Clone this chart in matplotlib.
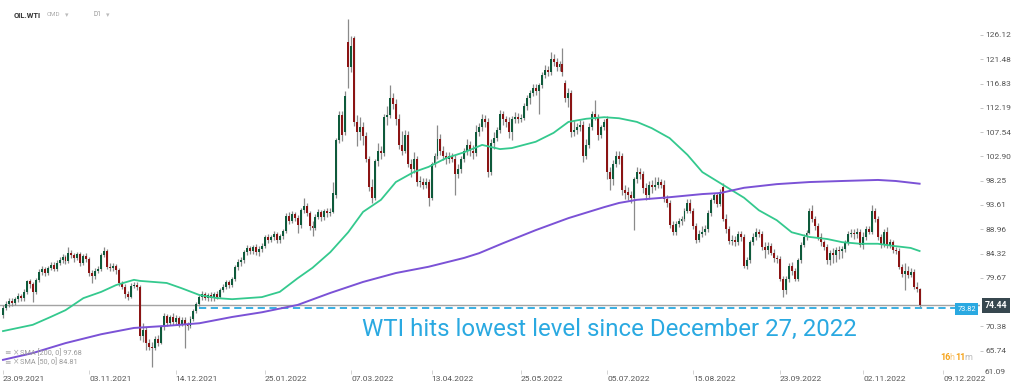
import numpy as np
import pandas as pd
import matplotlib
matplotlib.use("Agg")
import matplotlib.pyplot as plt

plt.rcParams['font.family'] = ['Roboto', 'DejaVu Sans']

# daily candles OIL.WTI
opens = [
    72.6, 74.0, 74.6, 75.3, 74.9, 75.6, 76.2, 75.8, 77.0, 79.0,
    78.5, 76.9, 79.2, 80.8, 81.3, 80.6, 81.6, 82.2, 81.4, 82.6,
    83.1, 83.6, 82.9, 84.4, 84.0, 83.4, 84.2, 82.6, 83.8, 83.2,
    80.6, 80.0, 81.0, 81.4, 84.0, 84.9, 81.8, 81.5, 82.0, 81.1,
    78.6, 78.0, 76.6, 76.1, 78.2, 78.4, 77.9, 68.5, 69.8, 67.3,
    66.5, 66.3, 67.9, 67.2, 70.2, 72.3, 71.0, 72.1, 71.2, 72.0,
    70.9, 71.7, 70.6, 70.4, 71.9, 73.3, 74.6, 76.0, 76.6, 75.9,
    76.4, 75.8, 76.6, 76.1, 77.4, 78.0, 78.8, 78.3, 79.5, 81.8,
    82.8, 83.0, 84.6, 85.3, 84.8, 85.5, 84.6, 85.2, 85.8, 87.5,
    87.0, 87.4, 88.0, 86.9, 87.6, 88.6, 91.5, 90.6, 91.8, 91.2,
    89.8, 92.6, 93.4, 92.0, 89.6, 89.3, 91.4, 92.2, 91.3, 92.4,
    92.0, 92.3, 95.5, 106.0, 110.8, 107.5, 124.8, 120.0, 125.5, 109.5,
    107.5, 108.5, 106.8, 102.5, 97.0, 95.0, 102.0, 104.0, 103.5, 110.5,
    110.8, 114.0, 113.0, 110.0, 105.0, 104.0, 107.0, 101.5, 100.5, 102.5,
    98.0, 98.0, 97.5, 98.0, 95.0, 101.5, 103.0, 106.3, 104.0, 103.0,
    102.5, 103.0, 102.5, 99.5, 100.5, 102.5, 104.0, 105.0, 104.0, 103.5,
    107.5, 108.5, 110.0, 109.5, 100.0, 105.5, 106.5, 108.0, 111.0, 110.0,
    109.5, 107.5, 110.0, 110.5, 110.0, 110.3, 112.5, 114.0, 115.0, 116.0,
    115.5, 116.5, 118.5, 119.5, 119.0, 121.5, 121.0, 120.0, 120.5, 117.0,
    114.0, 115.0, 107.5, 108.0, 108.5, 109.0, 103.0, 105.0, 108.5, 111.0,
    110.5, 107.0, 108.5, 110.0, 100.0, 98.5, 101.5, 103.0, 103.0, 96.5,
    96.0, 95.5, 95.0, 98.5, 100.0, 99.5, 96.8, 95.5, 97.5, 97.0,
    97.5, 98.0, 97.5, 94.8, 94.0, 89.8, 88.5, 90.0, 90.5, 91.0,
    92.5, 94.0, 92.5, 89.6, 87.0, 88.0, 88.5, 89.0, 92.0, 94.5,
    95.5, 93.8, 97.0, 91.0, 89.0, 86.8, 87.0, 86.5, 88.0, 87.5,
    82.0, 83.0, 86.5, 87.5, 88.5, 88.0, 85.5, 85.0, 85.8, 84.5,
    83.5, 83.3, 79.5, 77.3, 79.5, 82.0, 81.0, 79.5, 83.0, 86.0,
    87.5, 88.3, 92.5, 91.0, 89.5, 87.5, 86.5, 85.5, 83.0, 84.5,
    84.0, 85.0, 84.8, 85.2, 86.5, 88.0, 88.3, 88.0, 88.5, 86.0,
    87.5, 89.0, 88.5, 92.5, 91.0, 87.5, 86.0, 88.5, 86.0, 86.5,
    85.0, 84.8, 81.8, 80.5, 81.0, 80.3, 80.8, 78.0, 77.5,
]
highs = [
    74.5, 75.2, 75.9, 75.8, 76.0, 76.8, 76.6, 77.6, 79.3, 79.4,
    78.9, 79.6, 81.3, 81.9, 81.8, 82.0, 82.8, 82.7, 83.0, 83.6,
    84.2, 84.0, 85.6, 85.0, 84.5, 84.7, 84.6, 84.3, 84.4, 83.6,
    81.2, 81.5, 82.0, 84.4, 85.5, 85.2, 82.5, 82.6, 82.4, 81.5,
    79.0, 78.5, 77.2, 78.6, 78.9, 78.9, 78.3, 71.0, 70.3, 68.0,
    67.5, 68.5, 68.7, 70.6, 72.9, 72.8, 72.6, 72.9, 72.5, 72.4,
    72.2, 72.1, 71.2, 72.3, 73.8, 75.0, 76.5, 77.1, 77.0, 76.8,
    76.9, 77.0, 77.1, 77.8, 78.5, 79.3, 79.3, 79.9, 82.2, 83.3,
    83.6, 85.0, 85.9, 85.8, 86.0, 86.2, 85.7, 86.3, 87.9, 88.1,
    87.9, 88.6, 88.5, 88.1, 89.1, 92.0, 92.2, 92.4, 92.3, 91.7,
    93.0, 95.0, 93.9, 92.5, 90.6, 91.9, 92.8, 92.7, 92.9, 93.0,
    93.0, 98.0, 106.4, 111.6, 111.5, 115.5, 129.2, 126.0, 126.0, 110.8,
    110.5, 109.5, 107.6, 103.0, 98.5, 102.5, 105.5, 104.8, 111.0, 112.5,
    116.5, 115.0, 113.8, 111.0, 107.8, 108.0, 107.8, 102.5, 103.7, 103.0,
    99.2, 98.8, 98.8, 98.5, 101.9, 103.6, 108.9, 107.2, 104.8, 103.8,
    103.8, 103.6, 103.2, 101.5, 103.0, 104.6, 106.2, 105.8, 105.0, 108.9,
    109.2, 111.0, 110.8, 110.2, 106.2, 107.5, 108.6, 111.8, 111.6, 110.6,
    110.4, 110.6, 111.3, 111.2, 111.0, 113.2, 114.6, 115.6, 116.8, 116.7,
    117.0, 119.0, 120.3, 120.1, 122.9, 122.5, 121.7, 121.2, 123.6, 117.6,
    116.0, 115.6, 109.8, 109.3, 109.8, 109.6, 106.2, 109.2, 111.6, 113.7,
    111.0, 109.0, 110.0, 110.6, 100.8, 102.2, 104.0, 104.0, 103.6, 97.5,
    97.0, 96.3, 99.0, 100.8, 100.6, 100.2, 97.8, 98.2, 98.3, 99.0,
    99.0, 98.6, 98.4, 95.5, 94.5, 90.6, 90.6, 91.2, 91.6, 93.0,
    94.7, 94.8, 93.0, 90.2, 88.8, 89.6, 89.8, 92.6, 95.0, 96.0,
    96.0, 96.6, 97.8, 91.8, 89.6, 87.8, 87.6, 88.6, 88.7, 88.0,
    83.6, 86.9, 88.2, 89.3, 89.0, 88.6, 86.5, 86.5, 86.3, 85.2,
    84.0, 83.8, 80.0, 80.0, 82.5, 82.8, 81.6, 83.5, 86.6, 88.0,
    88.8, 93.0, 93.6, 91.6, 90.2, 88.2, 87.0, 86.2, 85.0, 85.3,
    85.6, 85.8, 85.8, 87.0, 88.6, 89.0, 89.0, 89.2, 89.0, 88.4,
    89.6, 89.5, 93.6, 93.0, 91.5, 88.0, 89.0, 89.4, 87.2, 87.0,
    85.5, 85.3, 82.3, 82.5, 82.0, 81.6, 81.3, 78.8, 77.8,
]
lows = [
    72.0, 73.5, 74.1, 74.3, 74.4, 75.1, 75.2, 75.3, 76.6, 77.8,
    75.0, 76.5, 78.8, 80.3, 80.1, 80.2, 81.1, 80.9, 81.0, 82.1,
    82.6, 82.3, 82.5, 83.5, 82.8, 83.0, 82.0, 82.1, 82.7, 80.1,
    78.7, 79.5, 80.6, 81.0, 83.6, 81.3, 80.9, 81.0, 80.5, 78.1,
    77.5, 75.9, 75.4, 75.8, 77.7, 77.3, 67.8, 67.5, 65.9, 65.9,
    62.6, 65.8, 66.6, 67.0, 69.8, 70.5, 70.6, 70.7, 70.6, 70.3,
    70.4, 66.3, 69.8, 70.0, 71.5, 73.0, 74.3, 75.5, 75.4, 75.3,
    75.3, 75.3, 75.7, 75.8, 77.0, 77.6, 77.8, 77.9, 79.1, 81.2,
    81.9, 82.6, 84.1, 84.2, 84.3, 84.0, 83.9, 84.7, 85.4, 86.4,
    86.5, 86.9, 86.3, 86.4, 87.1, 88.2, 89.9, 90.1, 90.6, 88.3,
    89.2, 92.0, 91.5, 88.8, 87.6, 88.9, 90.9, 90.6, 90.8, 91.3,
    91.5, 92.0, 95.0, 105.5, 105.8, 107.0, 116.0, 119.0, 108.8, 104.8,
    106.0, 105.0, 101.8, 96.3, 94.0, 94.5, 101.0, 102.5, 103.0, 109.0,
    110.2, 112.0, 109.0, 104.3, 103.2, 103.5, 100.8, 99.0, 99.8, 97.2,
    97.0, 96.6, 96.8, 93.5, 94.5, 100.8, 102.4, 103.2, 102.2, 101.5,
    101.7, 101.8, 95.5, 98.8, 99.8, 101.9, 103.2, 103.0, 102.5, 103.0,
    106.8, 107.8, 108.5, 99.0, 99.3, 104.3, 105.8, 107.4, 109.0, 108.6,
    106.5, 106.0, 109.3, 109.2, 109.4, 109.8, 111.8, 113.0, 114.4, 114.6,
    111.0, 116.0, 117.8, 118.3, 118.5, 120.2, 119.2, 119.3, 118.3, 113.3,
    112.4, 106.6, 106.8, 107.2, 107.8, 101.8, 102.4, 104.5, 108.0, 109.8,
    106.0, 106.5, 108.0, 98.5, 96.5, 97.5, 100.8, 101.5, 95.5, 94.8,
    94.6, 94.0, 88.8, 97.8, 98.6, 96.0, 94.5, 94.8, 96.0, 96.5,
    96.8, 96.8, 94.2, 93.2, 89.2, 87.8, 87.8, 89.4, 89.8, 90.5,
    92.0, 92.0, 89.0, 86.3, 86.5, 87.4, 87.8, 88.4, 91.5, 94.0,
    93.2, 93.4, 90.5, 88.3, 86.2, 86.0, 85.8, 86.0, 86.8, 81.5,
    81.3, 82.6, 86.0, 87.0, 87.4, 85.0, 83.5, 84.3, 84.0, 82.8,
    82.6, 79.0, 76.0, 76.6, 78.8, 80.3, 79.0, 79.0, 82.6, 85.5,
    87.0, 88.0, 90.4, 88.8, 87.0, 85.8, 85.0, 82.4, 82.2, 82.5,
    82.8, 83.3, 83.5, 84.6, 86.0, 87.4, 87.2, 87.3, 85.5, 85.2,
    87.0, 88.0, 88.0, 90.3, 87.0, 85.3, 85.5, 85.3, 85.4, 84.4,
    84.2, 81.3, 79.8, 77.4, 79.7, 79.8, 77.6, 76.9, 74.2,
]
closes = [
    74.0, 74.6, 75.3, 74.9, 75.6, 76.2, 75.8, 77.0, 79.0, 78.5,
    76.9, 79.2, 80.8, 81.3, 80.6, 81.6, 82.2, 81.4, 82.6, 83.1,
    83.6, 82.9, 84.4, 84.0, 83.4, 84.2, 82.6, 83.8, 83.2, 80.6,
    80.0, 81.0, 81.4, 84.0, 84.9, 81.8, 81.5, 82.0, 81.1, 78.6,
    78.0, 76.6, 76.1, 78.2, 78.4, 77.9, 68.5, 69.8, 67.3, 66.5,
    66.3, 67.9, 67.2, 70.2, 72.3, 71.0, 72.1, 71.2, 72.0, 70.9,
    71.7, 70.6, 70.4, 71.9, 73.3, 74.6, 76.0, 76.6, 75.9, 76.4,
    75.8, 76.6, 76.1, 77.4, 78.0, 78.8, 78.3, 79.5, 81.8, 82.8,
    83.0, 84.6, 85.3, 84.8, 85.5, 84.6, 85.2, 85.8, 87.5, 87.0,
    87.4, 88.0, 86.9, 87.6, 88.6, 91.5, 90.6, 91.8, 91.2, 89.8,
    92.6, 93.4, 92.0, 89.6, 89.3, 91.4, 92.2, 91.3, 92.4, 92.0,
    92.3, 96.0, 106.0, 110.8, 107.0, 114.5, 120.0, 124.0, 109.5, 107.5,
    108.5, 106.8, 102.5, 97.0, 95.0, 102.0, 104.0, 103.5, 110.5, 110.8,
    114.0, 113.0, 110.0, 105.0, 104.0, 107.0, 101.5, 100.5, 102.5, 98.0,
    98.0, 97.5, 98.0, 95.0, 101.5, 103.0, 106.3, 104.0, 103.0, 102.5,
    103.0, 102.5, 99.5, 100.5, 102.5, 104.0, 105.0, 104.0, 103.5, 107.5,
    108.5, 110.0, 109.5, 100.0, 105.5, 106.5, 108.0, 111.0, 110.0, 109.5,
    107.5, 110.0, 110.5, 110.0, 110.3, 112.5, 114.0, 115.0, 116.0, 115.5,
    116.5, 118.5, 119.5, 119.0, 121.5, 121.0, 120.0, 120.5, 119.0, 114.0,
    115.0, 107.5, 108.0, 108.5, 109.0, 103.0, 105.0, 108.5, 111.0, 110.5,
    107.0, 108.5, 109.5, 100.0, 98.5, 101.5, 103.0, 102.5, 96.5, 96.0,
    95.5, 95.0, 98.5, 100.0, 99.5, 96.8, 95.5, 97.5, 97.0, 97.5,
    98.0, 97.5, 94.8, 94.0, 89.8, 88.5, 90.0, 90.5, 91.0, 92.5,
    94.0, 92.5, 89.6, 87.0, 88.0, 88.5, 89.0, 92.0, 94.5, 95.5,
    93.8, 96.0, 91.0, 89.0, 86.8, 87.0, 86.5, 88.0, 87.5, 82.0,
    83.0, 86.5, 87.5, 88.5, 88.0, 85.5, 85.0, 85.8, 84.5, 83.5,
    83.3, 79.5, 77.3, 79.5, 82.0, 81.0, 79.5, 83.0, 86.0, 87.5,
    88.3, 92.5, 91.0, 89.5, 87.5, 86.5, 85.5, 83.0, 84.5, 84.0,
    85.0, 84.8, 85.2, 86.5, 88.0, 88.3, 88.0, 88.5, 86.0, 87.5,
    89.0, 88.5, 92.5, 91.0, 87.5, 86.0, 88.5, 86.0, 86.5, 85.0,
    84.8, 81.8, 80.5, 81.0, 80.3, 80.8, 78.0, 77.5, 74.44,
]

# moving averages, read at these candle positions
sma50_idx = [0, 10, 16, 21, 27, 33, 38, 44, 46, 55, 60, 66, 72, 77, 87, 93, 99, 104,
             110, 116, 121, 127, 132, 138, 143, 149, 155, 161, 167, 171, 179, 185,
             190, 196, 202, 207, 213, 218, 224, 230, 235, 241, 249, 254, 260, 265,
             271, 277, 282, 288, 294, 299, 305, 308]
sma50 = [69.5, 70.7, 72.2, 73.5, 75.8, 77.0, 78.3, 79.3, 79.1, 78.7, 77.7, 76.4,
         75.8, 75.6, 76.0, 77.0, 79.6, 81.6, 84.6, 88.4, 92.3, 94.6, 98.0, 99.9,
         100.9, 102.6, 103.7, 105.1, 104.3, 104.5, 105.7, 107.4, 109.5, 110.1,
         110.4, 110.2, 109.5, 108.3, 106.4, 103.2, 99.9, 97.8, 95.0, 92.6, 90.7,
         88.4, 87.5, 87.1, 86.5, 86.2, 86.2, 85.8, 85.4, 84.81]
sma200_idx = [0, 10, 21, 33, 44, 55, 66, 77, 87, 99, 110, 121, 132, 143, 155, 160,
              168, 179, 190, 202, 207, 213, 224, 235, 241, 249, 260, 271, 282, 294,
              300, 308]
sma200 = [64.0, 65.3, 67.2, 68.9, 70.1, 70.5, 71.0, 72.2, 73.1, 74.5, 76.8, 78.9,
          80.6, 81.8, 83.5, 84.4, 86.3, 88.8, 91.1, 93.2, 94.0, 94.6, 95.1, 95.7,
          95.9, 96.9, 97.6, 98.0, 98.2, 98.4, 98.2, 97.68]

date_labels = ['23.09.2021', '03.11.2021', '14.12.2021', '25.01.2022', '07.03.2022',
               '13.04.2022', '25.05.2022', '05.07.2022', '15.08.2022', '23.09.2022',
               '02.11.2022', '09.12.2022']
price_ticks = [65.74, 70.38, 79.67, 84.32, 88.96, 93.61, 98.25, 102.90, 107.54,
               112.19, 116.83, 121.48, 126.12]
axis_bottom_label = 61.09
last_price = 74.44
dec_low = 73.82
title = 'WTI hits lowest level since December 27, 2022'

GREEN = '#0e5a3b'
RED = '#8b1414'
BLUE = '#2aa9e1'

o = np.array(opens)
h = np.array(highs)
l = np.array(lows)
c = np.array(closes)
x = np.arange(len(c))

# business-day axis, ticks found from the dates
days = pd.bdate_range('2021-09-23', '2022-12-09')
tick_pos = days.get_indexer(pd.to_datetime(date_labels, format='%d.%m.%Y'))

fig = plt.figure(figsize=(10.24, 3.91), dpi=100)
ax = fig.add_axes([0, 21 / 391, 980 / 1024, 355 / 391])

ax.vlines(x, l, h, color='#8a8a8a', lw=0.9, zorder=2)
cols = np.where(c >= o, GREEN, RED)
body = np.maximum(np.abs(c - o), 0.15)
ax.bar(x, body, bottom=np.minimum(o, c), width=0.66, color=cols, lw=0, zorder=3)

ax.plot(sma50_idx, sma50, color='#34c98e', lw=1.3, zorder=4)
ax.plot(sma200_idx, sma200, color='#7b52d6', lw=1.4, zorder=4)

ax.axhline(last_price, color='#a3a3a3', lw=1.0, zorder=1)
ax.hlines(dec_low, 66, 319.9, color=BLUE, lw=1.3, linestyles=(0, (4, 2.5)), zorder=1)

ax.set_xlim(-1.01, 328.3)
ax.set_ylim(62.06, 129.94)

ax.set_xticks(tick_pos)
ax.set_xticklabels(date_labels, ha='left')
ax.yaxis.tick_right()
ax.set_yticks(price_ticks)
ax.set_yticklabels([f'{t:.2f}' for t in price_ticks])
ax.tick_params(axis='x', length=3, width=0.6, color='#cccccc', pad=1,
               labelsize=6, labelcolor='#555555')
ax.tick_params(axis='y', length=2.5, width=0.6, color='#bbbbbb', pad=1.5,
               labelsize=6, labelcolor='#555555')
for s in ax.spines.values():
    s.set_visible(False)

ax.annotate(f'{axis_bottom_label:.2f}', xy=(1, 61.7), xycoords=('axes fraction', 'data'),
            xytext=(3, 0), textcoords='offset points', ha='left', va='center',
            fontsize=6, color='#555555', annotation_clip=False)

# price tags on the right
ax.annotate(f'{last_price:.2f}', xy=(1, last_price), xycoords=('axes fraction', 'data'),
            xytext=(3.5, 0), textcoords='offset points', ha='left', va='center',
            fontsize=6.3, fontweight='bold', color='white', annotation_clip=False,
            bbox=dict(boxstyle='square,pad=0.35', fc='#37474f', ec='none'))
ax.annotate(f'{dec_low:.2f}', xy=(1, dec_low), xycoords=('axes fraction', 'data'),
            xytext=(-3, -0.5), textcoords='offset points', ha='right', va='center',
            fontsize=5.3, color='white', annotation_clip=False,
            bbox=dict(boxstyle='square,pad=0.3', fc=BLUE, ec='none'))

ax.text(0.369, 0.096, title, transform=ax.transAxes, fontsize=17.3,
        color=BLUE, va='baseline', ha='left')

# header
fig.text(14 / 1024, 1 - 15 / 391, 'OIL.WTI', fontsize=5.5, fontweight='bold',
         color='#333333', va='center')
fig.text(47 / 1024, 1 - 15 / 391, 'CMD', fontsize=4.5, color='#aaaaaa', va='center')
fig.text(65 / 1024, 1 - 15 / 391, '▾', fontsize=5, color='#bbbbbb', va='center',
         family='DejaVu Sans')
fig.text(94 / 1024, 1 - 15 / 391, 'D1', fontsize=4.8, color='#999999', va='center')
fig.text(106 / 1024, 1 - 15 / 391, '▾', fontsize=5, color='#bbbbbb', va='center',
         family='DejaVu Sans')

# indicator legend
for row, (name, val) in enumerate([('SMA [200, 0]', sma200[-1]), ('SMA [50, 0]', sma50[-1])]):
    yy = 1 - (353 + 9 * row) / 391
    fig.text(4 / 1024, yy, '≡', fontsize=5.5, color='#aaaaaa', va='center',
             family='DejaVu Sans')
    fig.text(13 / 1024, yy, '×', fontsize=5.5, color='#aaaaaa', va='center',
             family='DejaVu Sans')
    fig.text(20 / 1024, yy, f'{name} {val:.2f}', fontsize=5.3, color='#9a9a9a', va='center')

# countdown
yy = 1 - 358 / 391
fig.text(940 / 1024, yy, '16', fontsize=6.5, fontweight='bold', color='#f5a31a', va='center')
fig.text(949 / 1024, yy, 'h', fontsize=6.5, color='#f8c77a', va='center')
fig.text(955 / 1024, yy, '11', fontsize=6.5, fontweight='bold', color='#f5a31a', va='center')
fig.text(964 / 1024, yy, 'm', fontsize=6.5, color='#bbbbbb', va='center')

fig.savefig('out.png', dpi=100)
